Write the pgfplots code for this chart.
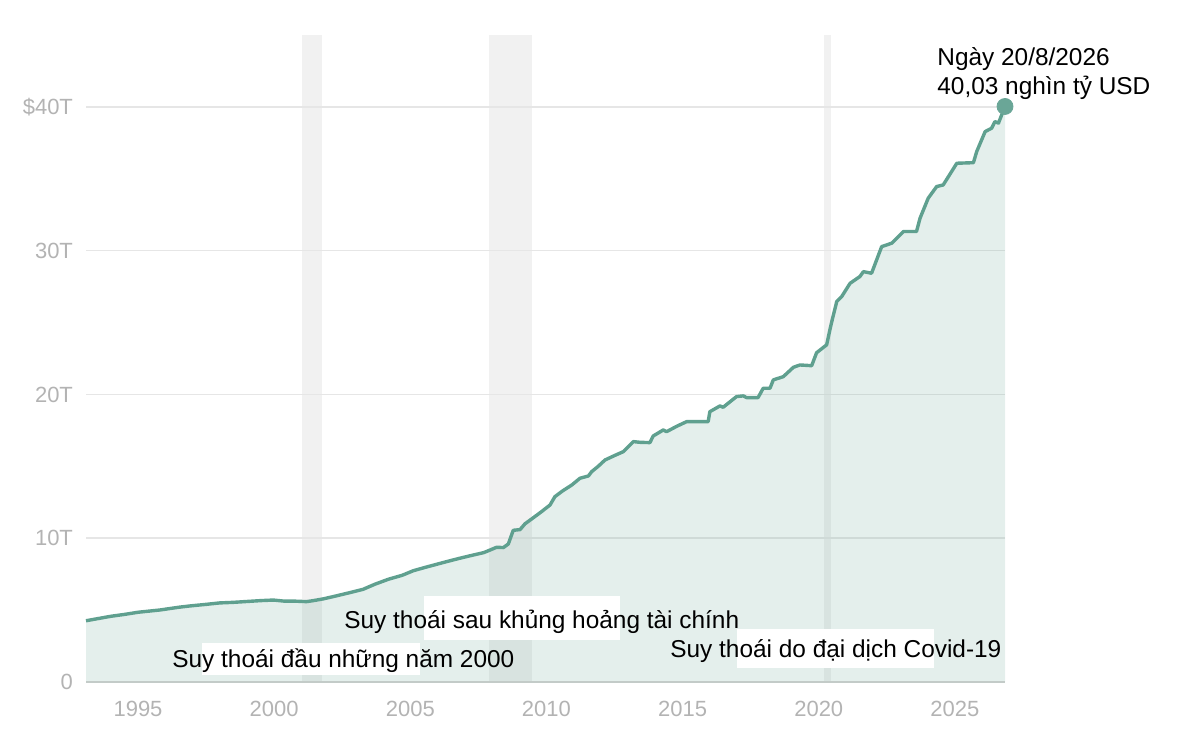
\documentclass[border=0pt]{standalone}
\usepackage{fontspec}
\setmainfont{Liberation Sans}
\usepackage{pgfplots}
\usepackage{pgfplotstable}
\pgfplotsset{compat=1.18}

\definecolor{debtline}{HTML}{5FA08F}
\definecolor{debtdot}{HTML}{6AA697}
\definecolor{tickgray}{HTML}{B3B3B3}
\definecolor{gridgray}{HTML}{E6E6E6}
\definecolor{bandgray}{HTML}{F1F1F1}
\definecolor{axisgray}{HTML}{C3CBC8}

% total public debt, trillion USD (year, value)
\pgfplotstableread{
year value
1993.09 4.26
1993.5 4.40
1994.0 4.57
1994.5 4.70
1995.0 4.85
1995.81 5.01
1996.5 5.20
1996.91 5.29
1997.5 5.40
1998.0 5.50
1998.5 5.54
1999.0 5.60
1999.5 5.66
1999.97 5.70
2000.34 5.63
2000.8 5.62
2001.19 5.59
2001.44 5.66
2001.8 5.78
2002.17 5.94
2002.7 6.18
2003.27 6.45
2003.7 6.80
2004.2 7.15
2004.7 7.42
2005.11 7.74
2005.6 8.00
2006.33 8.37
2006.8 8.60
2007.31 8.83
2007.7 9.00
2008.17 9.37
2008.42 9.35
2008.60 9.60
2008.78 10.55
2009.03 10.60
2009.21 11.00
2009.5 11.40
2009.82 11.85
2010.13 12.31
2010.31 12.89
2010.6 13.30
2010.93 13.70
2011.23 14.17
2011.54 14.33
2011.66 14.63
2011.9 15.00
2012.15 15.44
2012.5 15.75
2012.82 16.02
2013.19 16.72
2013.44 16.67
2013.80 16.65
2013.92 17.11
2014.29 17.53
2014.41 17.41
2014.8 17.80
2015.15 18.11
2015.94 18.11
2016.00 18.80
2016.37 19.20
2016.49 19.11
2016.98 19.85
2017.23 19.90
2017.35 19.78
2017.77 19.78
2017.96 20.43
2018.21 20.43
2018.33 21.01
2018.70 21.24
2019.07 21.89
2019.31 22.05
2019.74 22.00
2019.92 22.90
2020.29 23.45
2020.41 24.50
2020.47 25.00
2020.66 26.46
2020.84 26.80
2021.15 27.73
2021.51 28.20
2021.64 28.54
2021.94 28.43
2022.31 30.28
2022.68 30.52
2023.11 31.33
2023.59 31.33
2023.72 32.26
2024.02 33.65
2024.33 34.46
2024.57 34.57
2025.07 36.08
2025.68 36.12
2025.80 36.89
2026.11 38.28
2026.35 38.52
2026.47 38.98
2026.60 38.87
2026.84 40.03
}\debt

\begin{document}
\begin{tikzpicture}
\path (0,0) rectangle (600pt,370pt);
\begin{axis}[
    at={(43pt,29pt)}, anchor=south west,
    scale only axis,
    width=459.5pt, height=323.5pt,
    set layers,
    clip=false,
    xmin=1993.09, xmax=2026.84,
    ymin=0, ymax=45,
    axis line style={draw=none},
    major tick length=0pt,
    xtick={1995,2000,2005,2010,2015,2020,2025},
    xticklabels={1995,2000,2005,2010,2015,2020,2025},
    ytick={0,10,20,30,40},
    yticklabels={0,10T,20T,30T,\$40T},
    /pgf/number format/assume math mode=true,
    ymajorgrids,
    grid style={gridgray, line width=0.8pt},
    ticklabel style={font=\fontsize{11}{12}\selectfont, text=tickgray},
    xticklabel style={yshift=-6pt},
    yticklabel style={xshift=-3pt},
]
% recession bands
\addplot[on layer=axis background, fill=bandgray, draw=none]
    coordinates {(2001.02,0) (2001.02,45) (2001.77,45) (2001.77,0)} -- cycle;
\addplot[on layer=axis background, fill=bandgray, draw=none]
    coordinates {(2007.89,0) (2007.89,45) (2009.48,45) (2009.48,0)} -- cycle;
\addplot[on layer=axis background, fill=bandgray, draw=none]
    coordinates {(2020.21,0) (2020.21,45) (2020.46,45) (2020.46,0)} -- cycle;
% area + line
\addplot[fill=debtline, fill opacity=0.17, draw=none] table[x=year, y=value] {\debt} \closedcycle;
\addplot[debtline, line width=1.7pt, line join=round] table[x=year, y=value] {\debt};
\draw[axisgray, line width=1pt] (rel axis cs:0,0) -- (rel axis cs:1,0);
\addplot[only marks, mark=*, mark size=4pt, color=debtdot] coordinates {(2026.84,40.03)};
\end{axis}

% recession labels (white boxes sit a bit off, as in the original)
\fill[white] (101pt,32.5pt) rectangle (210pt,48.5pt);
\fill[white] (212pt,50pt) rectangle (310pt,72pt);
\fill[white] (368.5pt,36pt) rectangle (467pt,55.5pt);
\begin{scope}[every node/.style={inner sep=0pt, anchor=base west, font=\fontsize{12.2}{14}\selectfont}]
\node at (86pt,36.5pt) {Suy thoái đầu những năm 2000};
\node at (172pt,56pt) {Suy thoái sau khủng hoảng tài chính};
\node at (335pt,41.5pt) {Suy thoái do đại dịch Covid-19};
\node at (468.5pt,337pt) {Ngày 20/8/2026};
\node at (468.5pt,322.5pt) {40,03 nghìn tỷ USD};
\end{scope}
\end{tikzpicture}
\end{document}
